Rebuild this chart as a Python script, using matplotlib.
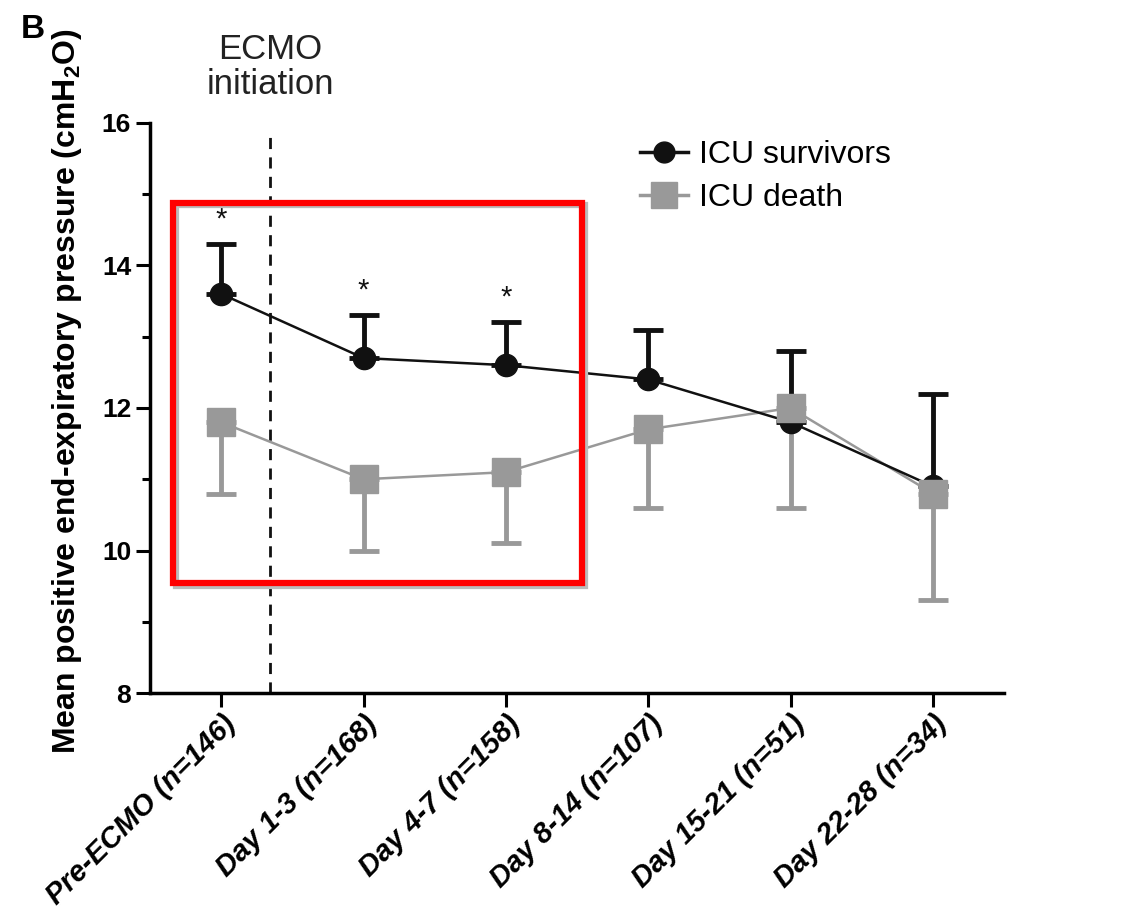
import matplotlib
matplotlib.use('Agg')
import matplotlib.pyplot as plt
import matplotlib.transforms as mtransforms
from matplotlib.patches import Rectangle
from matplotlib.lines import Line2D

plt.rcParams['font.family'] = ['Liberation Sans', 'DejaVu Sans']

# 数据
categories = ['Pre-ECMO (n=146)', 'Day 1-3 (n=168)', 'Day 4-7 (n=158)',
              'Day 8-14 (n=107)', 'Day 15-21 (n=51)', 'Day 22-28 (n=34)']
survivors = [13.6, 12.7, 12.6, 12.4, 11.8, 10.9]
survivors_err = [0.7, 0.6, 0.6, 0.7, 1.0, 1.3]   # 只有向上的误差
death = [11.8, 11.0, 11.1, 11.7, 12.0, 10.8]
death_err = [1.0, 1.0, 1.0, 1.1, 1.4, 1.5]       # 只有向下的误差
signif = [0, 1, 2]  # 有星号的点

black = '#111111'
gray = '#999999'

fig = plt.figure(figsize=(11.45, 9.23), dpi=100)
ax = fig.add_axes([0.131, 0.249, 0.746, 0.618])
x = list(range(len(categories)))

# 死亡组(灰色) 先画
ax.errorbar(x, death, yerr=[death_err, [0]*len(x)], fmt='none', ecolor=gray,
            elinewidth=3.5, capsize=11, capthick=3.5, zorder=2)
ax.plot(x, death, color=gray, lw=1.8, zorder=3)
# 存活组(黑色)
ax.errorbar(x, survivors, yerr=[[0]*len(x), survivors_err], fmt='none', ecolor=black,
            elinewidth=3.5, capsize=11, capthick=3.5, zorder=2)
ax.plot(x, survivors, color=black, lw=1.8, marker='o', ms=16, zorder=4)
ax.plot(x, death, color=gray, lw=0, marker='s', ms=20, zorder=5)

for i in signif:
    ax.text(x[i], survivors[i] + survivors_err[i] + 0.15, '*', ha='center', va='bottom',
            fontsize=21, color=black)

# ECMO 开始的虚线
ax.plot([0.345, 0.345], [8, 15.85], ls=(0, (4, 3)), color=black, lw=2, clip_on=False, zorder=1)
ax.text(0.345, 16.3, 'ECMO\ninitiation', ha='center', va='bottom', fontsize=25,
        color='#222222', linespacing=1.1)

# 红色框 (带一点阴影)
shadow_tr = mtransforms.offset_copy(ax.transData, fig=fig, x=2, y=-2, units='points')
ax.add_patch(Rectangle((-0.34, 9.54), 2.875, 5.34, fill=False, ec='#bbbbbb', lw=4.5,
                       clip_on=False, zorder=5.5, transform=shadow_tr))
ax.add_patch(Rectangle((-0.34, 9.54), 2.875, 5.34, fill=False, ec='#ff0000', lw=4.5,
                       clip_on=False, zorder=6))

ax.set_xlim(-0.5, 5.5)
ax.set_ylim(8, 16)
ax.set_yticks([8, 10, 12, 14, 16])
ax.set_yticks([9, 11, 13, 15], minor=True)
ax.set_xticks(x)
ax.set_xticklabels(categories, rotation=45, ha='right', rotation_mode='anchor',
                   fontsize=21, fontweight='bold', fontstyle='italic')
for lab in ax.get_yticklabels():
    lab.set_fontsize(19)
    lab.set_fontweight('bold')
ax.tick_params(axis='both', which='major', length=10, width=2.2, direction='out')
ax.tick_params(axis='y', which='minor', length=6, width=2.2)
ax.tick_params(axis='x', pad=2)
for s in ['top', 'right']:
    ax.spines[s].set_visible(False)
for s in ['left', 'bottom']:
    ax.spines[s].set_linewidth(2.5)
ax.set_ylabel('Mean positive end-expiratory pressure (cmH$_\\mathregular{2}$O)',
              fontsize=23, fontweight='bold')
ax.yaxis.set_label_coords(-0.077, 0.53)

# 图例
handles = [Line2D([], [], color=black, lw=2.5, marker='o', ms=15),
           Line2D([], [], color=gray, lw=2.5, marker='s', ms=19)]
ax.legend(handles, ['ICU survivors', 'ICU death'], loc='upper left',
          bbox_to_anchor=(0.54, 1.02), frameon=False, fontsize=23,
          handlelength=1.5, handletextpad=0.35, labelspacing=0.4)

fig.text(0.018, 0.985, 'B', fontsize=24, fontweight='bold', va='top')

fig.savefig('out.png', dpi=100)
